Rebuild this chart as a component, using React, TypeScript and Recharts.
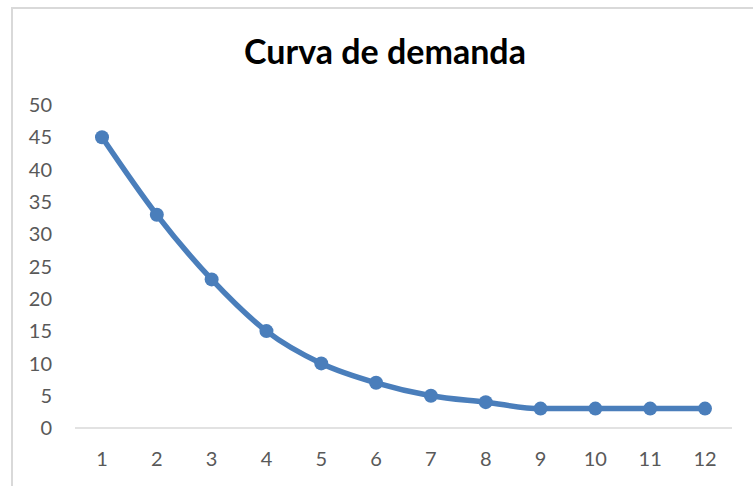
import React from 'react';
import { LineChart, Line, XAxis, YAxis } from 'recharts';

const periods = ['1', '2', '3', '4', '5', '6', '7', '8', '9', '10', '11', '12'];
const demand = [45, 33, 23, 15, 10, 7, 5, 4, 3, 3, 3, 3];
const yTicks = [0, 5, 10, 15, 20, 25, 30, 35, 40, 45, 50];

const data = periods.map((p, i) => ({ period: p, demand: demand[i] }));

const lineColor = '#4a7ebb';
const labelStyle = { fill: '#595959', fontSize: 20, fontFamily: 'Lato, "Open Sans", sans-serif' };

export default function App() {
  return (
    <div
      style={{
        position: 'fixed',
        left: 0,
        top: 0,
        width: 753,
        height: 486,
        overflow: 'hidden',
        background: '#fff',
      }}
    >
      {/* chart area frame, runs off the right and bottom edges */}
      <div
        style={{
          position: 'absolute',
          left: 11,
          top: 7,
          width: 800,
          height: 600,
          border: '2px solid #d9d9d9',
          boxSizing: 'border-box',
        }}
      />
      <div
        style={{
          position: 'absolute',
          left: 11,
          width: 748,
          top: 30,
          textAlign: 'center',
          fontFamily: 'Lato, "Open Sans", sans-serif',
          fontWeight: 700,
          fontSize: 34,
          color: '#000',
        }}
      >
        Curva de demanda
      </div>
      <div style={{ position: 'absolute', left: 0, top: 0 }}>
        <LineChart
          width={753}
          height={486}
          data={data}
          margin={{ top: 105, right: 21, left: 0, bottom: 0 }}
        >
          <XAxis
            dataKey="period"
            height={58}
            padding={{ left: 27, right: 27 }}
            axisLine={{ stroke: '#d9d9d9', strokeWidth: 1.5 }}
            tickLine={false}
            tickSize={0}
            tickMargin={24}
            tick={labelStyle}
            interval={0}
          />
          <YAxis
            width={75}
            domain={[0, 50]}
            ticks={yTicks}
            axisLine={false}
            tickLine={false}
            tickSize={0}
            tickMargin={23}
            tick={labelStyle}
            interval={0}
          />
          <Line
            type="monotone"
            dataKey="demand"
            stroke={lineColor}
            strokeWidth={5.5}
            dot={{ r: 7, fill: lineColor, stroke: lineColor, strokeWidth: 0 }}
            isAnimationActive={false}
          />
        </LineChart>
      </div>
    </div>
  );
}
